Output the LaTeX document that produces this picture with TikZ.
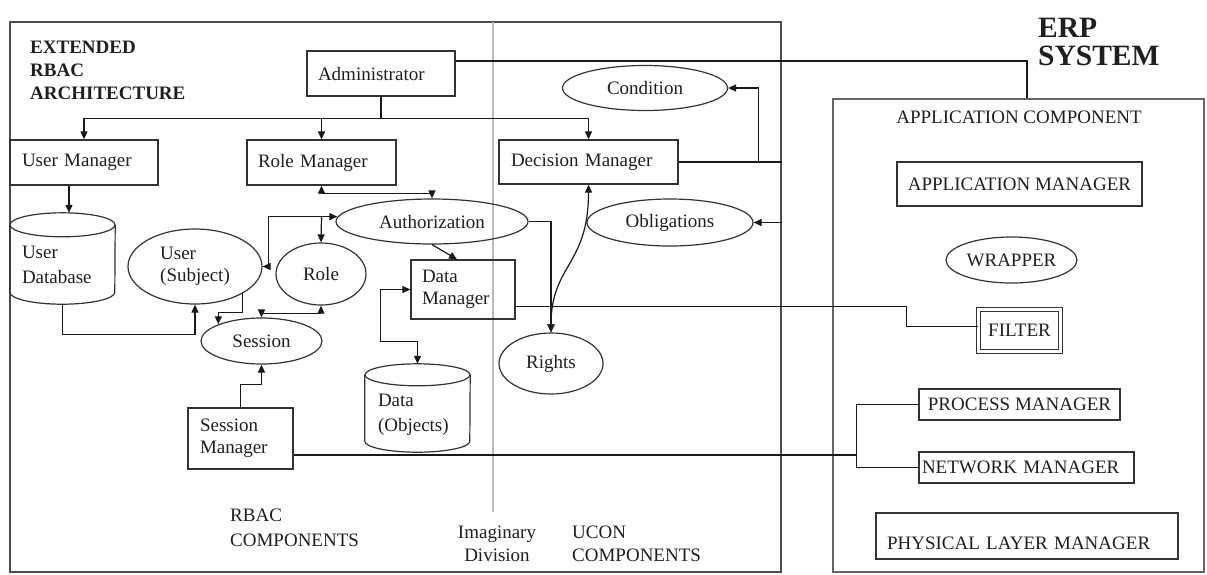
\documentclass[tikz,border=0pt]{standalone}
\usepackage{fontspec}
\setmainfont{Liberation Serif}
\usetikzlibrary{arrows.meta,shapes.geometric,calc}

% cylinder outline drawn around a (borderless) node: name, x radius, y radius
\newcommand\drumshape[3]{%
  \draw[shapeline] ([yshift=-#3]#1.north west) -- ([yshift=#3]#1.south west)
     arc[start angle=180,end angle=360,x radius=#2,y radius=#3]
     -- ([yshift=-#3]#1.north east);
  \draw[shapeline] ([yshift=-#3]#1.north) ellipse[x radius=#2,y radius=#3];
}
% two left-aligned lines whose baseline is the first line
\newcommand\twolines[3]{\makebox[#1][l]{\begin{tabular}[t]{@{}l@{}}#2\\[2.5pt]#3\end{tabular}}}

\begin{document}
\begin{tikzpicture}[x=1pt,y=1pt,
  every node/.style={font=\fontsize{19}{22.5}\selectfont, text=black!88},
  line/.style={line width=1.2pt, draw=black!90},
  shapeline/.style={line width=1.2pt, draw=black!80},
  tip/.tip={Triangle[length=8pt,width=7pt]},
  arr/.style={line, -tip},
  arrr/.style={line, tip-tip},
  frame/.style={rectangle, draw=black!70, line width=1.6pt, inner sep=0pt},
  box/.style={rectangle, draw=black!80, line width=1.3pt, inner ysep=0pt},
  oval/.style={ellipse, draw=black!80, line width=1.2pt, inner sep=0pt},
  drum/.style={rectangle, draw=none, inner ysep=0pt},
  caption/.style={inner sep=0pt, align=left}
]
\useasboundingbox (0,0) rectangle (1207,-574);

% ---------- outer frames ----------
\node[frame, minimum width=771pt, minimum height=550pt] (rbac) at (395.5,-297) {};
\node[frame, draw=black!60, minimum width=371pt, minimum height=473pt] (erp) at (1018.5,-335.5) {};

% imaginary division between RBAC and UCON parts
\coordinate (divtop) at (493,-22);
\coordinate (divbot) at (493,-512);
\draw[gray!55, line width=1.4pt] (divtop) -- (divbot);

% ---------- captions ----------
\node[caption, anchor=north west, font=\bfseries\fontsize{19}{23}\selectfont] (extended) at (30,-40.5)
  {EXTENDED\\RBAC\\ARCHITECTURE};
\node[caption, anchor=north west, font=\bfseries\fontsize{29.5}{28}\selectfont] (erptitle) at (1038,-17.5)
  {ERP\\SYSTEM};
\node[caption, anchor=north west, font=\fontsize{19}{25}\selectfont] (rbaccomp) at (230,-508.7)
  {RBAC\\COMPONENTS};
\node[caption, anchor=north, align=center, font=\fontsize{19}{23}\selectfont] (imaginary) at (497,-525.7)
  {Imaginary\\Division};
\node[caption, anchor=north west, font=\fontsize{19}{23}\selectfont] (uconcomp) at (572,-525.7)
  {UCON\\COMPONENTS};
\node (appcomp) at (1019,-117) {APPLICATION COMPONENT};

% ---------- RBAC side ----------
\node[box, minimum width=148pt, minimum height=45pt, text width=126pt, inner xsep=11pt, align=left]
  (admin) at (381,-73.5) {Administrator};
\node[box, minimum width=148pt, minimum height=45pt, text width=124pt, inner xsep=12pt, align=left]
  (um) at (84,-162.5) {User Manager};
\node[box, minimum width=149pt, minimum height=45pt, text width=127pt, inner xsep=11pt, align=left]
  (rm) at (321.5,-162.5) {Role Manager};
\node[box, minimum width=104pt, minimum height=59pt, text width=82pt, inner xsep=11pt, align=left]
  (datam) at (463,-289.5) {Data\\Manager};
\node[box, minimum width=105pt, minimum height=61pt, text width=81pt, inner xsep=12pt, align=left]
  (sm) at (240.5,-438.5) {Session\\Manager};

\node[drum, minimum width=105pt, minimum height=91pt, inner xsep=12pt, text height=30pt, text depth=30pt]
  (udb) at (62.5,-258.5) {\twolines{81pt}{User}{Database}};
\drumshape{udb}{52.5pt}{12pt}
\node[drum, minimum width=105pt, minimum height=88pt, inner xsep=13pt, text height=28.7pt, text depth=31.3pt]
  (dataobj) at (417.5,-408) {\twolines{79pt}{Data}{(Objects)}};
\drumshape{dataobj}{52.5pt}{11pt}

\node[oval, minimum width=192pt, minimum height=45pt] (auth) at (432,-221.5) {Authorization};
\node[oval, minimum width=90pt, minimum height=62pt] (role) at (321,-274) {Role};
\node[oval, minimum width=134pt, minimum height=75pt, align=left] (user) at (195,-266.5) {User\\(Subject)};
\node[oval, minimum width=121pt, minimum height=46pt] (session) at (261.5,-341) {Session};

% ---------- UCON side ----------
\node[box, minimum width=179pt, minimum height=44pt, text width=155pt, inner xsep=12pt, align=left]
  (dm) at (588.5,-162) {Decision Manager};
\node[oval, minimum width=165pt, minimum height=45pt] (cond) at (645,-88) {Condition};
\node[oval, minimum width=166pt, minimum height=47pt] (obl) at (670,-222.5) {Obligations};
\node[oval, minimum width=104pt, minimum height=61pt] (rights) at (551,-363.5) {Rights};

% ---------- ERP side ----------
\node[box, minimum width=245pt, minimum height=44pt] (appm) at (1019.5,-184) {APPLICATION MANAGER};
\node[oval, minimum width=131pt, minimum height=46pt] (wrap) at (1011.5,-260) {WRAPPER};
\node[box, double=white, double distance=2.4pt, line width=1.1pt, minimum width=82.2pt, minimum height=42.2pt]
  (filter) at (1019.5,-330.5) {FILTER};
\node[box, minimum width=201pt, minimum height=31pt] (pm) at (1019.5,-404.5) {PROCESS MANAGER};
\node[box, minimum width=215pt, minimum height=31pt, text width=209pt, inner xsep=3pt, align=left]
  (nm) at (1026.5,-467.5) {NETWORK MANAGER};
\node[box, minimum width=302pt, minimum height=46pt, text width=280pt, inner xsep=11pt, align=left,
  text height=26.6pt, text depth=0pt] (plm) at (1027,-536) {PHYSICAL LAYER MANAGER};

% ---------- connectors ----------
% administrator fan-out
\draw[line] (admin.south) -- ++(0,-22) coordinate (bus);
\draw[arr] (bus) -| (um.north);
\draw[arr] (bus) -| (rm.north);
\draw[arr] (bus) -| (dm.north);
\draw[line] ([yshift=12.5pt]admin.east) -| ([xshift=8.5pt]erp.north);

% users
\draw[arr] ([xshift=-15pt]um.south) -- ([xshift=-15pt]um.south |- udb.north);
\draw[arr] (udb.south) -- ++(0,-30) -| (user.south);

% roles and authorization
\draw[arrr] (rm.south) -- ++(0,-8) -| (auth.north);
\coordinate (aj) at ($(rm.south)+(0,-31)$);
\draw[arr] (aj) -- ([xshift=2pt]aj -| auth.west);
\draw[arr] (aj) -- (role.north);
\draw[arr] (aj) -- ++(-53,0) |- (user.east);

% sessions
\draw[arr] (user.south east) -- ++(0,-19.3) -| (session.north west);
\draw[arrr] (role.south) -- ++(0,-7.7) -| (session.north);
\draw[arr] (sm.north) -- ++(0,23) -| (session.south);
\draw[line] ([yshift=-16.5pt]sm.east) -- ++(563,0) coordinate (nj);
\draw[line] (pm.west) -| (nj) |- (nm.west);

% data
\draw[arr] (auth.south) -- ([xshift=-6pt]datam.north);
\draw[arrr] (datam.west) -- ++(-30,0) -- ++(0,-52) -| (dataobj.north);
\draw[line] ([yshift=-17pt]datam.east) -- ++(391,0) coordinate (fj) |- ([yshift=4pt]filter.west);

% usage control
\draw[arr] (auth.east) -| (rights.north);
\draw[arrr] (rights.north) .. controls +(0,68) and +(0,-81) .. (dm.south);
\draw[line] (dm.east) -- (dm.east -| rbac.east);
\coordinate (cj) at ($(dm.east)+(80,0)$);
\draw[arr] (cj) |- (cond.east);
\draw[arr] (obl.east -| rbac.east) -- (obl.east);
\end{tikzpicture}
\end{document}
